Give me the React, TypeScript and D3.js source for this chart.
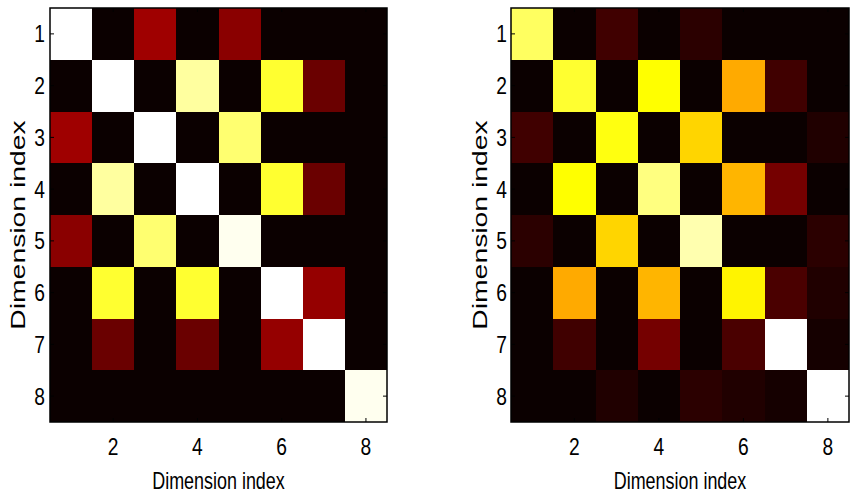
import React from "react";
import * as d3 from "d3";

const dims = [1, 2, 3, 4, 5, 6, 7, 8];
const xTickValues = [2, 4, 6, 8];
const yTickValues = [1, 2, 3, 4, 5, 6, 7, 8];
const axisLabel = "Dimension index";

// values on the colormap scale (0..1)
const leftMatrix = [
  [1, 0, 0.222, 0, 0.19, 0, 0, 0],
  [0, 1, 0, 0.905, 0, 0.794, 0.143, 0],
  [0.222, 0, 1, 0, 0.857, 0, 0, 0],
  [0, 0.905, 0, 1, 0, 0.794, 0.143, 0],
  [0.19, 0, 0.857, 0, 0.984, 0, 0, 0],
  [0, 0.794, 0, 0.794, 0, 1, 0.206, 0],
  [0, 0.143, 0, 0.143, 0, 0.206, 1, 0],
  [0, 0, 0, 0, 0, 0, 0, 0.984],
];

const rightMatrix = [
  [0.841, 0, 0.079, 0, 0.048, 0, 0, 0],
  [0, 0.79, 0, 0.746, 0, 0.619, 0.079, 0],
  [0.079, 0, 0.762, 0, 0.683, 0, 0, 0.032],
  [0, 0.746, 0, 0.873, 0, 0.635, 0.159, 0],
  [0.048, 0, 0.683, 0, 0.921, 0, 0, 0.048],
  [0, 0.619, 0, 0.635, 0, 0.73, 0.095, 0.032],
  [0, 0.079, 0, 0.159, 0, 0.095, 1, 0.016],
  [0, 0, 0.032, 0, 0.048, 0.032, 0.016, 1],
];

function hot(t: number): string {
  const k = 1 + Math.round(Math.max(0, Math.min(1, t)) * 63);
  const c = (v: number) => Math.max(0, Math.min(1, v));
  const r = c(k / 24);
  const g = c((k - 24) / 24);
  const b = c((k - 48) / 16);
  return d3.rgb(r * 255, g * 255, b * 255).formatHex();
}

const FONT = "'Liberation Sans', Arial, Helvetica, sans-serif";

function Panel({ matrix, x0, x1, y0, y1, labelX, tickRight }: any) {
  const xs = d3.scaleLinear().domain([0.5, 8.5]).range([x0, x1]);
  const ys = d3.scaleLinear().domain([0.5, 8.5]).range([y0, y1]);
  const tl = 4;
  const cx = (x0 + x1) / 2;
  const cy = (y0 + y1) / 2;
  return (
    <g>
      <g shapeRendering="crispEdges">
        {matrix.map((row: number[], i: number) =>
          row.map((v: number, j: number) => {
            const xa = Math.round(xs(dims[j] - 0.5));
            const xb = Math.round(xs(dims[j] + 0.5));
            const ya = Math.round(ys(dims[i] - 0.5));
            const yb = Math.round(ys(dims[i] + 0.5));
            return (
              <rect
                key={`${i}-${j}`}
                x={xa}
                y={ya}
                width={xb - xa}
                height={yb - ya}
                fill={hot(v)}
              />
            );
          })
        )}
      </g>
      {xTickValues.map((t) => (
        <g key={"xt" + t}>
          <line x1={xs(t)} x2={xs(t)} y1={y1} y2={y1 - tl} stroke="#000" strokeWidth={1} />
          <line x1={xs(t)} x2={xs(t)} y1={y0} y2={y0 + tl} stroke="#000" strokeWidth={1} />
          <text
            transform={`translate(${xs(t)},${455}) scale(0.8,1)`}
            textAnchor="middle"
            fontFamily={FONT}
            fontSize={24}
            fill="#000"
          >
            {t}
          </text>
        </g>
      ))}
      {yTickValues.map((t) => (
        <g key={"yt" + t}>
          <line x1={x0} x2={x0 + tl} y1={ys(t)} y2={ys(t)} stroke="#000" strokeWidth={1} />
          <line x1={x1} x2={x1 - tl} y1={ys(t)} y2={ys(t)} stroke="#000" strokeWidth={1} />
          <text
            transform={`translate(${tickRight},${ys(t) + 8.5}) scale(0.8,1)`}
            textAnchor="end"
            fontFamily={FONT}
            fontSize={24}
            fill="#000"
          >
            {t}
          </text>
        </g>
      ))}
      <rect x={x0} y={y0} width={x1 - x0} height={y1 - y0} fill="none" stroke="#000" strokeWidth={1.5} />
      <text
        transform={`translate(${cx},489) scale(0.78,1)`}
        textAnchor="middle"
        fontFamily={FONT}
        fontSize={23}
        fill="#000"
      >
        {axisLabel}
      </text>
      <text
        transform={`translate(${labelX},${cy + 10}) rotate(-90) scale(1.35,1)`}
        textAnchor="middle"
        fontFamily={FONT}
        fontSize={21}
        fill="#000"
      >
        {axisLabel}
      </text>
    </g>
  );
}

export default function App() {
  return (
    <svg
      width={854}
      height={496}
      style={{ position: "absolute", left: 0, top: 0, background: "#fff" }}
    >
      <rect x={0} y={0} width={854} height={496} fill="#fff" />
      <Panel matrix={leftMatrix} x0={50} x1={387} y0={8} y1={422} labelX={25} tickRight={45} />
      <Panel matrix={rightMatrix} x0={511} x1={849} y0={8} y1={422} labelX={487} tickRight={507} />
    </svg>
  );
}
